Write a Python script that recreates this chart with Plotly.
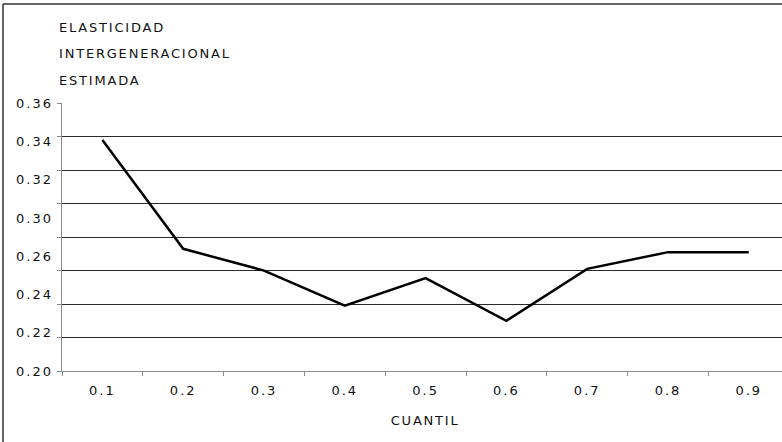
import json
import numpy as np
import plotly.graph_objects as go

# ---- data ----
cuantiles = ["0.1", "0.2", "0.3", "0.4", "0.5", "0.6", "0.7", "0.8", "0.9"]
elasticidad = [0.338, 0.273, 0.260, 0.239, 0.2555, 0.230, 0.261, 0.271, 0.271]
y_grid_vals = [0.20, 0.22, 0.24, 0.26, 0.28, 0.30, 0.32, 0.34, 0.36]
y_tick_labels = ["0.36", "0.34", "0.32", "0.30", "0.26", "0.24", "0.22", "0.20"]
title_lines = ["ELASTICIDAD", "INTERGENERACIONAL", "ESTIMADA"]
x_title = "CUANTIL"

W, H = 782, 442
L, R, T, B = 62, 0, 103, 71
FONT = "DejaVu Sans"
TXT = "#111111"

plot_w = W - L - R
plot_h = H - T - B

def px_to_paper_x(px):
    return (px - L) / plot_w

def px_to_paper_y(py):
    return 1 - (py - T) / plot_h

y_range = [min(y_grid_vals), max(y_grid_vals) + 0.0001]
cat_px = 80.8
x_range = [-0.5, -0.5 + plot_w / cat_px]

fig = go.Figure()
fig.add_trace(go.Scatter(
    x=cuantiles, y=elasticidad, mode="lines",
    line=dict(color="#000000", width=2.5),
    hoverinfo="x+y", showlegend=False,
))

label_pos = np.linspace(max(y_grid_vals), min(y_grid_vals), len(y_tick_labels))

fig.update_layout(
    width=W, height=H,
    margin=dict(l=L, r=R, t=T, b=B, pad=0),
    paper_bgcolor="white", plot_bgcolor="white",
    font=dict(family=FONT, size=13, color=TXT),
    xaxis=dict(
        type="category", range=x_range,
        showgrid=False, zeroline=False,
        showline=True, linecolor="#8c8c8c", linewidth=1,
        ticks="outside", tickson="boundaries", ticklen=4,
        tickcolor="#8c8c8c", tickwidth=1,
        tickfont=dict(family=FONT, size=13, color=TXT),
        ticklabelstandoff=7,
    ),
    yaxis=dict(
        range=y_range, tickvals=y_grid_vals, showticklabels=False,
        showgrid=True, gridcolor="#2a2a2a", gridwidth=1,
        zeroline=False,
        showline=True, linecolor="#8c8c8c", linewidth=1,
        ticks="outside", ticklen=4, tickcolor="#8c8c8c", tickwidth=1,
    ),
    yaxis2=dict(
        range=y_range, overlaying="y", side="left",
        tickvals=list(label_pos), ticktext=y_tick_labels,
        showgrid=False, zeroline=False, showline=False, ticks="",
        tickfont=dict(family=FONT, size=13, color=TXT),
        ticklabelstandoff=8,
    ),
)

# invisible trace to activate the second y axis
fig.add_trace(go.Scatter(x=[cuantiles[0]], y=[elasticidad[0]], yaxis="y2",
                         mode="markers", marker=dict(opacity=0),
                         hoverinfo="skip", showlegend=False))

# title lines
for line, py in zip(title_lines, [27, 53.5, 80]):
    fig.add_annotation(
        text=line, xref="paper", yref="paper",
        x=px_to_paper_x(57), y=px_to_paper_y(py),
        xanchor="left", yanchor="middle", showarrow=False,
        font=dict(family=FONT, size=13, color=TXT),
    )

# x axis title, centred under the middle category
fig.add_annotation(
    text=x_title, xref="x", yref="paper",
    x=4, y=px_to_paper_y(420), xanchor="center", yanchor="middle",
    showarrow=False, font=dict(family=FONT, size=13, color=TXT),
)

# outer frame (top and left edges visible)
fig.add_shape(type="line", xref="paper", yref="paper",
              x0=px_to_paper_x(3), x1=px_to_paper_x(W + 5),
              y0=px_to_paper_y(4), y1=px_to_paper_y(4),
              line=dict(color="#333333", width=1.5))
fig.add_shape(type="line", xref="paper", yref="paper",
              x0=px_to_paper_x(3), x1=px_to_paper_x(3),
              y0=px_to_paper_y(4), y1=px_to_paper_y(H + 5),
              line=dict(color="#333333", width=1.5))

post = """
document.body.style.margin = '0';
var leftTitles = %s;
document.querySelectorAll('.annotation-text').forEach(function(e){
  var b0 = e.getBBox();
  e.style.letterSpacing = '1.8px';
  if (leftTitles.indexOf(e.textContent) >= 0) {
    var b1 = e.getBBox();
    var dx = b0.x - b1.x;
    var nodes = [e].concat(Array.prototype.slice.call(e.querySelectorAll('tspan')));
    nodes.forEach(function(n){
      if (n.hasAttribute('x')) { n.setAttribute('x', parseFloat(n.getAttribute('x')) + dx); }
    });
  }
});
document.querySelectorAll('.xtick text, .ytick text, .y2tick text').forEach(function(e){ e.style.letterSpacing = '2px'; });
""" % json.dumps(title_lines)

fig.write_html("out.html", post_script=post, config={"displayModeBar": False})
